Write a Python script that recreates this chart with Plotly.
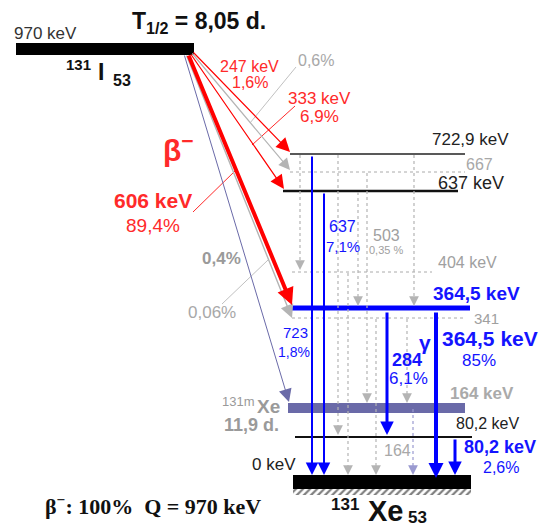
import plotly.graph_objects as go

# ------------------------------------------------------------------ data
parent_keV = 970
half_life = "8,05 d."
level_keV = [722.9, 667, 637, 404, 364.5, 341, 164, 80.2, 0]
level_text = ["722,9 keV", "667", "637 keV", "404 keV", "<b>364,5 keV</b>", "341",
              "<b>164 keV</b>", "80,2 keV", "0 keV"]

beta_to_keV = [722.9, 667, 637, 364.5, 341, 164]
beta_energy_text = ["247 keV", "", "333 keV", "<b>606 keV</b>", "", ""]
beta_intensity_text = ["1,6%", "0,6%", "6,9%", "89,4%", "0,06%", "<b>0,4%</b>"]

gamma_from_keV = [722.9, 722.9, 637, 722.9, 404, 637, 667, 341, 364.5, 341, 722.9, 164, 364.5, 80.2]
gamma_to_keV = [404, 0, 0, 80.2, 0, 364.5, 164, 0, 80.2, 164, 364.5, 0, 0, 0]
gamma_kind = ["weak", "strong", "strong", "weak", "weak", "weak", "weak", "weak",
              "strong", "weak", "weak", "isomer", "strong", "strong"]

# ------------------------------------------------------------------ layout / style
# schematic drawing position of each level (diagram units, top = 0)
level_pos = {970: 49, 722.9: 154, 667: 172, 637: 191, 404: 272, 364.5: 308,
             341: 318, 164: 408, 80.2: 437, 0: 482}
level_x = {722.9: (290, 465), 667: (290, 465), 637: (283, 458), 404: (292, 432),
           364.5: (292, 470), 341: (292, 465), 164: (288, 465), 80.2: (295, 472), 0: (293, 471)}
level_style = {722.9: ("#222", 1.5, "solid"), 667: ("#aaaaaa", 1, "dot"),
               637: ("#111", 2.5, "solid"), 404: ("#aaaaaa", 1, "dot"),
               364.5: ("#0000ff", 5, "solid"), 341: ("#aaaaaa", 1, "dot"),
               164: ("#6a6aa8", 10, "solid"), 80.2: ("#111", 2, "solid"),
               0: ("#000", 14, "solid")}
gamma_x = [300, 312, 324, 338, 348, 358, 367, 376, 387, 407, 414, 413, 436, 455]
gamma_w = [1, 2, 2, 1, 1, 1, 1, 1, 3, 1, 1, 1, 4, 3]

RED = "#ff0000"
RED_T = "#ff2a2a"
BLUE = "#0000ff"
BLUE_T = "#1414ff"
GRAY_T = "#9a9a9a"
GRAY_L = "#b4b4b4"
SLATE = "#6a6aa8"
FONT = "Liberation Sans, Arial, sans-serif"

fig = go.Figure()

# hatched ground-state support
fig.add_trace(go.Bar(x=[382], y=[6], base=[489], width=[178],
                     marker=dict(color="white", line=dict(width=0),
                                 pattern=dict(shape="/", fgcolor="black", bgcolor="white",
                                              size=5, solidity=0.45)),
                     hoverinfo="skip"))


def hline(x0, x1, y, color, width, dash="solid"):
    fig.add_shape(type="line", x0=x0, x1=x1, y0=y, y1=y, xref="x", yref="y",
                  line=dict(color=color, width=width, dash=dash))


def seg(x0, y0, x1, y1, color, width, dash="solid"):
    fig.add_shape(type="line", x0=x0, x1=x1, y0=y0, y1=y1, xref="x", yref="y",
                  line=dict(color=color, width=width, dash=dash))


def arrow(x0, y0, x1, y1, color, width, size, head=2):
    fig.add_annotation(x=x1, y=y1, ax=x0, ay=y0, xref="x", yref="y", axref="x", ayref="y",
                       text="", showarrow=True, arrowhead=head, arrowsize=size,
                       arrowwidth=width, arrowcolor=color, standoff=0, startstandoff=0)


def txt(x, y, s, size, color="#222", family=FONT, xanchor="center"):
    fig.add_annotation(x=x, y=y, xref="x", yref="y", text=s, showarrow=False,
                       xanchor=xanchor, yanchor="middle",
                       font=dict(size=size, color=color, family=family))


# parent level
fig.add_shape(type="rect", x0=16, x1=194, y0=43, y1=55, xref="x", yref="y",
              fillcolor="black", line=dict(width=0))

# daughter levels
for e in level_keV:
    c, w, d = level_style[e]
    x0, x1 = level_x[e]
    hline(x0, x1, level_pos[e], c, w, d)

# gamma transitions
for e0, e1, kind, x, w in zip(gamma_from_keV, gamma_to_keV, gamma_kind, gamma_x, gamma_w):
    y0 = level_pos[e0] + (3 if e0 == 364.5 else 1)
    y1 = level_pos[e1] - (7 if e1 == 0 else (5 if e1 == 164 else 2))
    if kind == "strong":
        size = {2: 1.25, 3: 0.9, 4: 0.75}[w]
        arrow(x, y0, x, y1 + (3 if w == 4 else 0), BLUE, w, size)
    else:
        col = "#9a9ad0" if kind == "isomer" else GRAY_L
        seg(x, y0, x, y1 - 5, col, 1.2, "dot")
        arrow(x, y1 - 8, x, y1, col, 1.5, 1.3)

# beta transitions
bx, by = 190, 52
arrow(bx + 2, by - 1, 290, 152, RED, 1.2, 2.3)             # 247 keV -> 722.9
arrow(bx + 1, by, 290, 170, GRAY_L, 1.2, 1.9)             # -> 667
arrow(bx, by + 1, 284, 189, RED, 1.2, 2.3)                 # 333 keV -> 637
arrow(bx - 4, by + 2, 292, 318, GRAY_L, 1.4, 1.9)          # -> 341
arrow(bx - 2, by + 2, 292, 305, RED, 4, 0.85)              # 606 keV -> 364.5
arrow(bx - 6, by + 2, 289, 402, SLATE, 1, 2.6)             # -> 164 (131mXe)

# leader lines
seg(296, 67, 250, 123, "#c0c0c0", 1)
seg(295, 106, 252, 145, RED_T, 1)
seg(193, 212, 236, 170, RED_T, 1)
seg(222, 304, 268, 260, "#c0c0c0", 1)

# ------------------------------------------------------------------ texts
txt(45, 33, f"{parent_keV} keV", 17, "#333")
txt(199, 22, f"<b>T<sub>1/2</sub> = {half_life}</b>", 23, "#111")
txt(78, 64, "<b>131</b>", 15, "#111")
txt(101, 72, "<b>I</b>", 23, "#111")
txt(122, 80, "<b>53</b>", 16, "#111")

# beta labels
txt(249, 66, beta_energy_text[0], 16, RED_T)
txt(250, 82, beta_intensity_text[0], 16, RED_T)
txt(316, 60, beta_intensity_text[1], 16, "#a8a8a8")
txt(319, 98, beta_energy_text[2], 17, RED_T)
txt(319, 116, beta_intensity_text[2], 17, RED_T)
txt(178, 148, "<b>β<sup>−</sup></b>", 30, RED_T)
txt(153, 200, beta_energy_text[3], 21, RED_T)
txt(153, 225, beta_intensity_text[3], 19, RED_T)
txt(212, 312, beta_intensity_text[4], 17, "#a8a8a8")
txt(221, 258, beta_intensity_text[5], 17, GRAY_T)

# level labels
txt(470, 139, level_text[0], 17, "#222")
txt(479, 164, level_text[1], 16, "#a8a8a8")
txt(471, 183, level_text[2], 18, "#222")
txt(467, 262, level_text[3], 16, "#a0a0a0")
txt(476, 293, level_text[4], 19, BLUE_T)
txt(486, 318, level_text[5], 15, "#a0a0a0")
txt(482, 393, level_text[6], 17, "#aaaaaa")
txt(487, 423, level_text[7], 16, "#222")
txt(274, 464, level_text[8], 17, "#222")

# gamma labels
txt(342, 226, "637", 16, BLUE_T)
txt(343, 246, "7,1%", 15, BLUE_T)
txt(386, 235, "503", 16, "#a0a0a0")
txt(386, 250, "0,35 %", 11, "#a0a0a0")
txt(295, 332, "723", 15, BLUE_T)
txt(294, 352, "1,8%", 14, BLUE_T)
txt(407, 360, "<b>284</b>", 18, BLUE_T)
txt(408, 378, "6,1%", 17, BLUE_T)
txt(425, 342, "<b>γ</b>", 21, BLUE_T)
txt(490, 338, "<b>364,5 keV</b>", 21, BLUE_T)
txt(479, 360, "85%", 17, BLUE_T)
txt(500, 447, "<b>80,2 keV</b>", 18, BLUE_T)
txt(501, 467, "2,6%", 16, BLUE_T)
txt(397, 450, "164", 16, "#a8a8a8")

# isomer and nuclide labels
txt(238, 401, "131m", 13, "#9a9a9a")
txt(268, 406, "<b>Xe</b>", 19, "#9a9a9a")
txt(251, 425, "<b>11,9 d.</b>", 18, "#9a9a9a")
txt(345, 504, "<b>131</b>", 17, "#111")
txt(385, 511, "<b>Xe</b>", 29, "#111")
txt(417, 517, "<b>53</b>", 17, "#111")
txt(153, 505, f"<b>β<sup>−</sup>: 100%  Q = {parent_keV} keV</b>", 22, "#111",
    family="Liberation Serif, Times New Roman, serif")

fig.update_layout(width=542, height=527, margin=dict(l=0, r=0, t=0, b=0),
                  paper_bgcolor="white", plot_bgcolor="white", showlegend=False,
                  xaxis=dict(range=[0, 542], visible=False, fixedrange=True),
                  yaxis=dict(range=[527, 0], visible=False, fixedrange=True),
                  bargap=0)

fig.write_html("out.html", config={"displayModeBar": False})

# remove the default page margin so the figure sits at the window origin
with open("out.html", encoding="utf-8") as f:
    html = f.read()
html = html.replace("<head>", "<head><style>html,body{margin:0;padding:0;overflow:hidden;}</style>", 1)
with open("out.html", "w", encoding="utf-8") as f:
    f.write(html)
